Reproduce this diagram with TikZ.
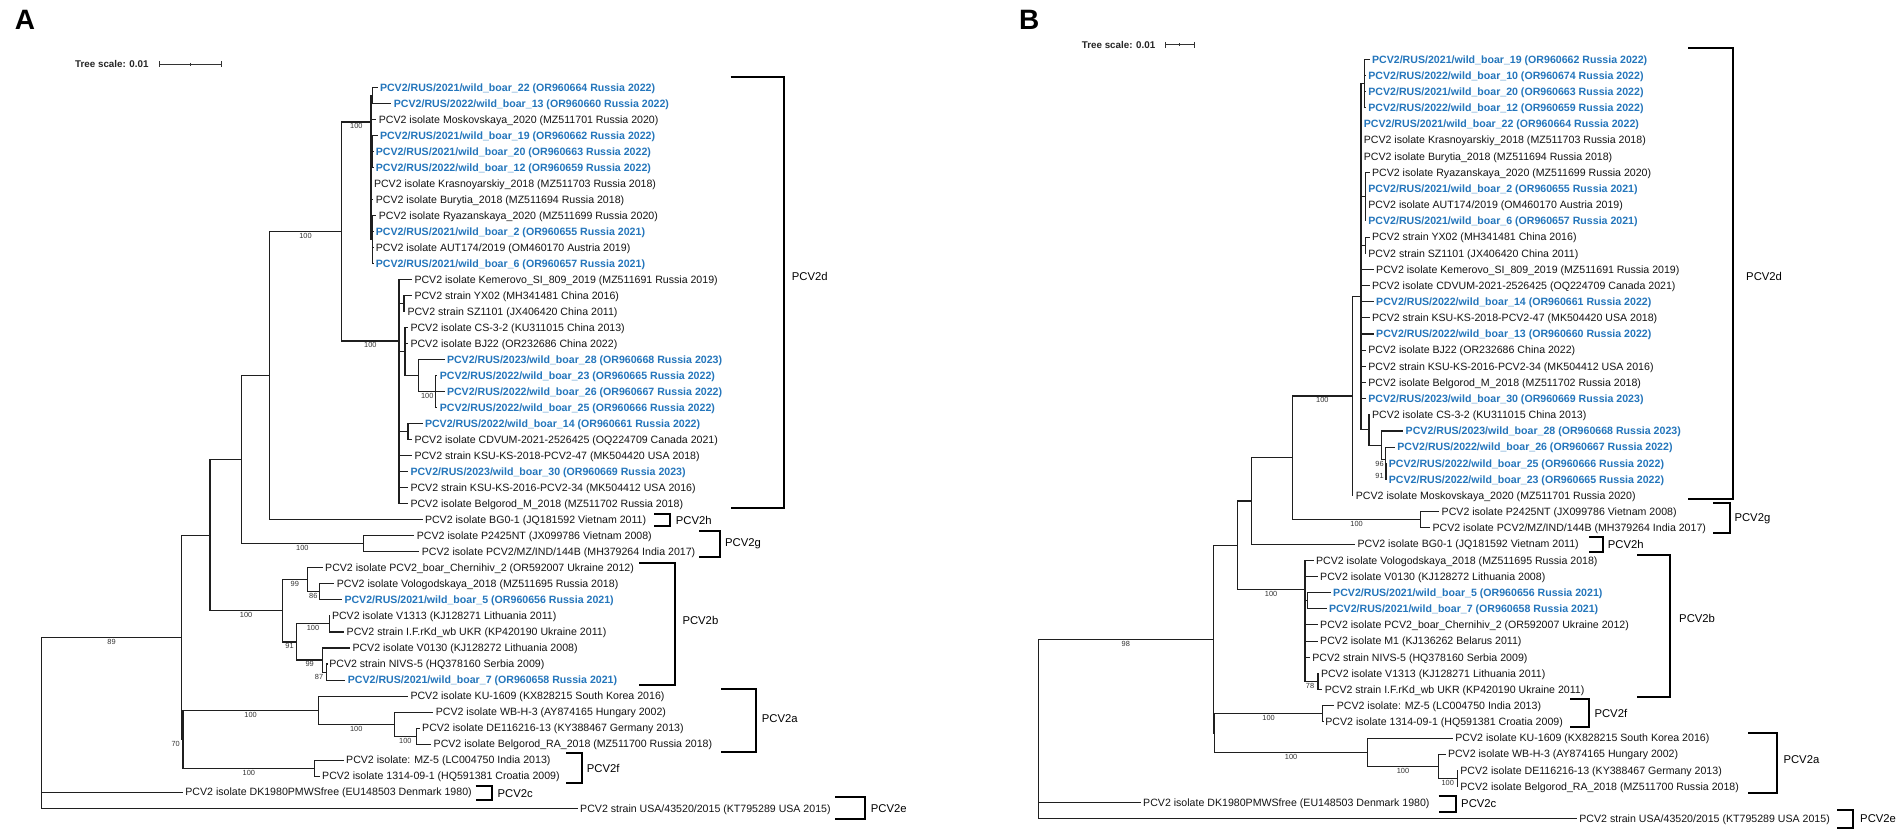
\documentclass[tikz,border=0pt]{standalone}
\usepackage{fontspec}
\setmainfont{Liberation Sans}
\usetikzlibrary{calc}
\definecolor{pblue}{RGB}{36,118,188}
\newcommand{\lf}[5]{\coordinate (#1) at (#2,#3); \node[#4] (#1t) at (#1) {#5};}
\newcommand{\kids}[2]{\foreach \kk in {#2}{\draw[tl] (#1) |- (\kk);}}
\newcommand{\bsl}[4]{\node[bs] (#1) at ($(#2 |- #3)!.5!(#3)$) {#4};}
\newcommand{\clade}[8]{\draw[brk] (#2,#4) -- (#3,#4) -- (#3,#5) -- (#2,#5); \node[clab] (#1) at (#6,#7) {#8};}
\tikzset{
 tl/.style={line width=1.05pt, black!88},
 brk/.style={line width=1.9pt, black},
 lbl/.style={anchor=base west, inner sep=0pt, xshift=2.3pt, yshift=-3.8pt, font=\fontsize{10.6}{12}\selectfont, text=black!92},
 blu/.style={lbl, font=\bfseries\fontsize{10.6}{12}\selectfont, text=pblue},
 bs/.style={anchor=north, inner sep=0pt, yshift=-1.6pt, font=\fontsize{7.4}{8}\selectfont, text=black!80},
 clab/.style={anchor=west, inner sep=0pt, font=\fontsize{11.3}{13}\selectfont},
 ttl/.style={anchor=base west, inner sep=0pt, font=\bfseries\fontsize{28}{30}\selectfont},
 tsc/.style={anchor=west, inner sep=0pt, font=\bfseries\fontsize{9.8}{11}\selectfont, text=black!85},
 sbar/.style={line width=1pt, black!80}
}
\begin{document}
\begin{tikzpicture}[x=1pt,y=-1pt]
\useasboundingbox (0,0) rectangle (1901,837);
\fill[white] (0,0) rectangle (1901,837);
% ================= PANEL A =================
\node[ttl] (tA) at (14.7,30) {A};
\node[tsc] (tsA) at (75,64.3) {Tree scale: 0.01};
\coordinate (sa1) at (159.1,64.3); \coordinate (sa2) at (221.8,64.3); \coordinate (sam) at (190.45,64.3);
\draw[sbar] (sa1) -- (sa2);
\draw[sbar] ($(sa1)+(0,-3)$) -- ($(sa1)+(0,3)$);
\draw[sbar] ($(sa2)+(0,-3)$) -- ($(sa2)+(0,3)$);
\draw[sbar] ($(sam)+(0,-1.5)$) -- ($(sam)+(0,1.5)$);
% internal nodes
\coordinate (aR) at (41.5,722.7);
\coordinate (aN89) at (181.5,637.25);
\coordinate (aW) at (210,535.4);
\coordinate (aU) at (241.5,459.77);
\coordinate (aNdh) at (269.4,375.66);
\coordinate (aNd) at (341.7,231.5);
\coordinate (aNd1) at (371,122);
\coordinate (aS12) at (372.5,95.31);
\coordinate (aS456) at (372.5,151.38);
\coordinate (aS912) at (372.5,239.49);
\coordinate (aNd2) at (399,341);
\coordinate (aS1415) at (404,303.57);
\coordinate (aD) at (405,351.63);
\coordinate (aE) at (418.8,375.66);
\coordinate (aF) at (435.6,391.68);
\coordinate (aG) at (408,431.73);
\coordinate (aNg) at (363.3,543.87);
\coordinate (aNb) at (282.3,610.95);
\coordinate (aB1) at (307.3,579.91);
\coordinate (aB11) at (319.3,591.93);
\coordinate (aB2) at (296.7,641.99);
\coordinate (aB21) at (329.3,623.97);
\coordinate (aB22) at (322.7,660.02);
\coordinate (aB221) at (326.7,672.03);
\coordinate (aN70) at (183,739.12);
\coordinate (aC2a) at (318.3,710.08);
\coordinate (aC2a2) at (394.3,724.1);
\coordinate (aC2a3) at (416.5,736.11);
\coordinate (aC2f) at (314.7,768.15);
% leaves
\lf{a1}{377.5}{87.30}{blu}{PCV2/RUS/2021/wild\_boar\_22 (OR960664 Russia 2022)}
\lf{a2}{391.4}{103.32}{blu}{PCV2/RUS/2022/wild\_boar\_13 (OR960660 Russia 2022)}
\lf{a3}{376.3}{119.34}{lbl}{PCV2 isolate Moskovskaya\_2020 (MZ511701 Russia 2020)}
\lf{a4}{377.5}{135.36}{blu}{PCV2/RUS/2021/wild\_boar\_19 (OR960662 Russia 2022)}
\lf{a5}{373.3}{151.38}{blu}{PCV2/RUS/2021/wild\_boar\_20 (OR960663 Russia 2022)}
\lf{a6}{373.3}{167.40}{blu}{PCV2/RUS/2022/wild\_boar\_12 (OR960659 Russia 2022)}
\lf{a7}{371.5}{183.42}{lbl}{PCV2 isolate Krasnoyarskiy\_2018 (MZ511703 Russia 2018)}
\lf{a8}{373.3}{199.44}{lbl}{PCV2 isolate Burytia\_2018 (MZ511694 Russia 2018)}
\lf{a9}{376.3}{215.46}{lbl}{PCV2 isolate Ryazanskaya\_2020 (MZ511699 Russia 2020)}
\lf{a10}{373.3}{231.48}{blu}{PCV2/RUS/2021/wild\_boar\_2 (OR960655 Russia 2021)}
\lf{a11}{373.3}{247.50}{lbl}{PCV2 isolate AUT174/2019 (OM460170 Austria 2019)}
\lf{a12}{373.3}{263.52}{blu}{PCV2/RUS/2021/wild\_boar\_6 (OR960657 Russia 2021)}
\lf{a13}{412}{279.54}{lbl}{PCV2 isolate Kemerovo\_SI\_809\_2019 (MZ511691 Russia 2019)}
\lf{a14}{412}{295.56}{lbl}{PCV2 strain YX02 (MH341481 China 2016)}
\lf{a15}{405}{311.58}{lbl}{PCV2 strain SZ1101 (JX406420 China 2011)}
\lf{a16}{408}{327.60}{lbl}{PCV2 isolate CS-3-2 (KU311015 China 2013)}
\lf{a17}{408}{343.62}{lbl}{PCV2 isolate BJ22 (OR232686 China 2022)}
\lf{a18}{444.5}{359.64}{blu}{PCV2/RUS/2023/wild\_boar\_28 (OR960668 Russia 2023)}
\lf{a19}{437.3}{375.66}{blu}{PCV2/RUS/2022/wild\_boar\_23 (OR960665 Russia 2022)}
\lf{a20}{444.5}{391.68}{blu}{PCV2/RUS/2022/wild\_boar\_26 (OR960667 Russia 2022)}
\lf{a21}{437.3}{407.70}{blu}{PCV2/RUS/2022/wild\_boar\_25 (OR960666 Russia 2022)}
\lf{a22}{422.5}{423.72}{blu}{PCV2/RUS/2022/wild\_boar\_14 (OR960661 Russia 2022)}
\lf{a23}{412}{439.74}{lbl}{PCV2 isolate CDVUM-2021-2526425 (OQ224709 Canada 2021)}
\lf{a24}{412}{455.76}{lbl}{PCV2 strain KSU-KS-2018-PCV2-47 (MK504420 USA 2018)}
\lf{a25}{408}{471.78}{blu}{PCV2/RUS/2023/wild\_boar\_30 (OR960669 Russia 2023)}
\lf{a26}{408}{487.80}{lbl}{PCV2 strain KSU-KS-2016-PCV2-34 (MK504412 USA 2016)}
\lf{a27}{408}{503.82}{lbl}{PCV2 isolate Belgorod\_M\_2018 (MZ511702 Russia 2018)}
\lf{a28}{422.5}{519.84}{lbl}{PCV2 isolate BG0-1 (JQ181592 Vietnam 2011)}
\lf{a29}{414.4}{535.86}{lbl}{PCV2 isolate P2425NT (JX099786 Vietnam 2008)}
\lf{a30}{419.4}{551.88}{lbl}{PCV2 isolate PCV2/MZ/IND/144B (MH379264 India 2017)}
\lf{a31}{322.7}{567.90}{lbl}{PCV2 isolate PCV2\_boar\_Chernihiv\_2 (OR592007 Ukraine 2012)}
\lf{a32}{334.4}{583.92}{lbl}{PCV2 isolate Vologodskaya\_2018 (MZ511695 Russia 2018)}
\lf{a33}{342}{599.94}{blu}{PCV2/RUS/2021/wild\_boar\_5 (OR960656 Russia 2021)}
\lf{a34}{329.5}{615.96}{lbl}{PCV2 isolate V1313 (KJ128271 Lithuania 2011)}
\lf{a35}{344.2}{631.98}{lbl}{PCV2 strain I.F.rKd\_wb UKR (KP420190 Ukraine 2011)}
\lf{a36}{350}{648.00}{lbl}{PCV2 isolate V0130 (KJ128272 Lithuania 2008)}
\lf{a37}{326.8}{664.02}{lbl}{PCV2 strain NIVS-5 (HQ378160 Serbia 2009)}
\lf{a38}{345.4}{680.04}{blu}{PCV2/RUS/2021/wild\_boar\_7 (OR960658 Russia 2021)}
\lf{a39}{408}{696.06}{lbl}{PCV2 isolate KU-1609 (KX828215 South Korea 2016)}
\lf{a40}{433.3}{712.08}{lbl}{PCV2 isolate WB-H-3 (AY874165 Hungary 2002)}
\lf{a41}{419.7}{728.10}{lbl}{PCV2 isolate DE116216-13 (KY388467 Germany 2013)}
\lf{a42}{431.2}{744.12}{lbl}{PCV2 isolate Belgorod\_RA\_2018 (MZ511700 Russia 2018)}
\lf{a43}{343.7}{760.14}{lbl}{PCV2 isolate: MZ-5 (LC004750 India 2013)}
\lf{a44}{319.7}{776.16}{lbl}{PCV2 isolate 1314-09-1 (HQ591381 Croatia 2009)}
\lf{a45}{182.9}{792.18}{lbl}{PCV2 isolate DK1980PMWSfree (EU148503 Denmark 1980)}
\lf{a46}{577.7}{808.20}{lbl}{PCV2 strain USA/43520/2015 (KT795289 USA 2015)}
% edges
\kids{aR}{aN89,a45,a46}
\kids{aN89}{aW,aN70}
\kids{aW}{aU,aNb}
\kids{aU}{aNdh,aNg}
\kids{aNdh}{aNd,a28}
\kids{aNd}{aNd1,aNd2}
\kids{aNd1}{aS12,a3,aS456,a7,a8,aS912}
\kids{aS12}{a1,a2}
\kids{aS456}{a4,a5,a6}
\kids{aS912}{a9,a10,a11,a12}
\kids{aNd2}{a13,aS1415,aD,aG,a24,a25,a26,a27}
\kids{aS1415}{a14,a15}
\kids{aD}{a16,a17,aE}
\kids{aE}{a18,aF}
\kids{aF}{a19,a20,a21}
\kids{aG}{a22,a23}
\kids{aNg}{a29,a30}
\kids{aNb}{aB1,aB2}
\kids{aB1}{a31,aB11}
\kids{aB11}{a32,a33}
\kids{aB2}{aB21,aB22}
\kids{aB21}{a34,a35}
\kids{aB22}{a36,aB221}
\kids{aB221}{a37,a38}
\kids{aN70}{aC2a,aC2f}
\kids{aC2a}{a39,aC2a2}
\kids{aC2a2}{a40,aC2a3}
\kids{aC2a3}{a41,a42}
\kids{aC2f}{a43,a44}
% support values
\bsl{la89}{aR}{aN89}{89}
\node[bs] (la70) at (175.7,739.12) {70};
\bsl{laWb}{aW}{aNb}{100}
\bsl{laB1}{aNb}{aB1}{99}
\bsl{laB11}{aB1}{aB11}{86}
\bsl{laB2}{aNb}{aB2}{91}
\bsl{laB21}{aB2}{aB21}{100}
\bsl{laB22}{aB2}{aB22}{99}
\node[bs] (laB221) at (319,672.03) {87};
\bsl{laNg}{aU}{aNg}{100}
\bsl{laNd}{aNdh}{aNd}{100}
\bsl{laNd1}{aNd}{aNd1}{100}
\bsl{laNd2}{aNd}{aNd2}{100}
\bsl{laF}{aE}{aF}{100}
\bsl{laC2a}{aN70}{aC2a}{100}
\bsl{laC2f}{aN70}{aC2f}{100}
\bsl{laC2a2}{aC2a}{aC2a2}{100}
\bsl{laC2a3}{aC2a2}{aC2a3}{100}
% clades
\clade{cAd}{730.7}{784.3}{77.3}{508.3}{791.7}{276}{PCV2d}
\clade{cAh}{654}{670}{514.3}{526}{675.7}{520}{PCV2h}
\clade{cAg}{699}{720}{531}{556.7}{725}{544}{PCV2g}
\clade{cAb}{639.3}{675}{563.3}{685}{682.3}{620}{PCV2b}
\clade{cAa}{721}{756}{688.7}{752.3}{761.7}{718.7}{PCV2a}
\clade{cAf}{566}{582.3}{753.3}{783.3}{586.7}{768.3}{PCV2f}
\clade{cAc}{475.6}{491.6}{786}{800}{497.5}{793.3}{PCV2c}
\clade{cAe}{835}{865}{796.7}{819}{870.7}{808.3}{PCV2e}
% ================= PANEL B =================
\node[ttl] (tB) at (1019,30) {B};
\node[tsc] (tsB) at (1081.7,45) {Tree scale: 0.01};
\coordinate (sb1) at (1165,45); \coordinate (sb2) at (1194,45); \coordinate (sbm) at (1179.5,45);
\draw[sbar] (sb1) -- (sb2);
\draw[sbar] ($(sb1)+(0,-3)$) -- ($(sb1)+(0,3)$);
\draw[sbar] ($(sb2)+(0,-3)$) -- ($(sb2)+(0,3)$);
\draw[sbar] ($(sbm)+(0,-1.5)$) -- ($(sbm)+(0,1.5)$);
\coordinate (bR) at (1038.1,728.9);
\coordinate (bX) at (1213.5,639.05);
\coordinate (bZ) at (1214.5,732.97);
\coordinate (bW) at (1237.1,545.15);
\coordinate (bV) at (1251.7,501.0);
\coordinate (bU) at (1292.3,457.93);
\coordinate (bD) at (1352.4,396.0);
\coordinate (bD1) at (1361,296.4);
\coordinate (bS14) at (1364.8,83.52);
\coordinate (bS811) at (1365.3,196.66);
\coordinate (bS1213) at (1365.3,245.14);
\coordinate (bD3) at (1369,429.97);
\coordinate (bD4) at (1381.4,445.12);
\coordinate (bD5) at (1385.6,459.26);
\coordinate (bD6) at (1386,471.38);
\coordinate (bG) at (1420.8,519.86);
\coordinate (bB) at (1305,589.3);
\coordinate (bS3435) at (1307.6,600.66);
\coordinate (bS3940) at (1318,681.46);
\coordinate (bF) at (1322.6,713.78);
\coordinate (bA) at (1367.7,752.16);
\coordinate (bA2) at (1438.2,766.3);
\coordinate (bA3) at (1457.3,778.42);
\lf{b1}{1369.6}{59.30}{blu}{PCV2/RUS/2021/wild\_boar\_19 (OR960662 Russia 2022)}
\lf{b2}{1365.9}{75.46}{blu}{PCV2/RUS/2022/wild\_boar\_10 (OR960674 Russia 2022)}
\lf{b3}{1365.9}{91.62}{blu}{PCV2/RUS/2021/wild\_boar\_20 (OR960663 Russia 2022)}
\lf{b4}{1365.9}{107.78}{blu}{PCV2/RUS/2022/wild\_boar\_12 (OR960659 Russia 2022)}
\lf{b5}{1361.3}{123.94}{blu}{PCV2/RUS/2021/wild\_boar\_22 (OR960664 Russia 2022)}
\lf{b6}{1361.3}{140.10}{lbl}{PCV2 isolate Krasnoyarskiy\_2018 (MZ511703 Russia 2018)}
\lf{b7}{1361.3}{156.26}{lbl}{PCV2 isolate Burytia\_2018 (MZ511694 Russia 2018)}
\lf{b8}{1369.6}{172.42}{lbl}{PCV2 isolate Ryazanskaya\_2020 (MZ511699 Russia 2020)}
\lf{b9}{1365.9}{188.58}{blu}{PCV2/RUS/2021/wild\_boar\_2 (OR960655 Russia 2021)}
\lf{b10}{1365.9}{204.74}{lbl}{PCV2 isolate AUT174/2019 (OM460170 Austria 2019)}
\lf{b11}{1365.9}{220.90}{blu}{PCV2/RUS/2021/wild\_boar\_6 (OR960657 Russia 2021)}
\lf{b12}{1369.6}{237.06}{lbl}{PCV2 strain YX02 (MH341481 China 2016)}
\lf{b13}{1365.9}{253.22}{lbl}{PCV2 strain SZ1101 (JX406420 China 2011)}
\lf{b14}{1373.7}{269.38}{lbl}{PCV2 isolate Kemerovo\_SI\_809\_2019 (MZ511691 Russia 2019)}
\lf{b15}{1369.6}{285.54}{lbl}{PCV2 isolate CDVUM-2021-2526425 (OQ224709 Canada 2021)}
\lf{b16}{1373.7}{301.70}{blu}{PCV2/RUS/2022/wild\_boar\_14 (OR960661 Russia 2022)}
\lf{b17}{1369.6}{317.86}{lbl}{PCV2 strain KSU-KS-2018-PCV2-47 (MK504420 USA 2018)}
\lf{b18}{1373.7}{334.02}{blu}{PCV2/RUS/2022/wild\_boar\_13 (OR960660 Russia 2022)}
\lf{b19}{1365.9}{350.18}{lbl}{PCV2 isolate BJ22 (OR232686 China 2022)}
\lf{b20}{1365.9}{366.34}{lbl}{PCV2 strain KSU-KS-2016-PCV2-34 (MK504412 USA 2016)}
\lf{b21}{1365.9}{382.50}{lbl}{PCV2 isolate Belgorod\_M\_2018 (MZ511702 Russia 2018)}
\lf{b22}{1365.9}{398.66}{blu}{PCV2/RUS/2023/wild\_boar\_30 (OR960669 Russia 2023)}
\lf{b23}{1369.6}{414.82}{lbl}{PCV2 isolate CS-3-2 (KU311015 China 2013)}
\lf{b24}{1403.2}{430.98}{blu}{PCV2/RUS/2023/wild\_boar\_28 (OR960668 Russia 2023)}
\lf{b25}{1394.9}{447.14}{blu}{PCV2/RUS/2022/wild\_boar\_26 (OR960667 Russia 2022)}
\lf{b26}{1386.4}{463.30}{blu}{PCV2/RUS/2022/wild\_boar\_25 (OR960666 Russia 2022)}
\lf{b27}{1386.4}{479.46}{blu}{PCV2/RUS/2022/wild\_boar\_23 (OR960665 Russia 2022)}
\lf{b28}{1353.4}{495.62}{lbl}{PCV2 isolate Moskovskaya\_2020 (MZ511701 Russia 2020)}
\lf{b29}{1439.2}{511.78}{lbl}{PCV2 isolate P2425NT (JX099786 Vietnam 2008)}
\lf{b30}{1430.1}{527.94}{lbl}{PCV2 isolate PCV2/MZ/IND/144B (MH379264 India 2017)}
\lf{b31}{1355.1}{544.10}{lbl}{PCV2 isolate BG0-1 (JQ181592 Vietnam 2011)}
\lf{b32}{1313.6}{560.26}{lbl}{PCV2 isolate Vologodskaya\_2018 (MZ511695 Russia 2018)}
\lf{b33}{1317.7}{576.42}{lbl}{PCV2 isolate V0130 (KJ128272 Lithuania 2008)}
\lf{b34}{1330.7}{592.58}{blu}{PCV2/RUS/2021/wild\_boar\_5 (OR960656 Russia 2021)}
\lf{b35}{1326.5}{608.74}{blu}{PCV2/RUS/2021/wild\_boar\_7 (OR960658 Russia 2021)}
\lf{b36}{1317.7}{624.90}{lbl}{PCV2 isolate PCV2\_boar\_Chernihiv\_2 (OR592007 Ukraine 2012)}
\lf{b37}{1317.7}{641.06}{lbl}{PCV2 isolate M1 (KJ136262 Belarus 2011)}
\lf{b38}{1309.9}{657.22}{lbl}{PCV2 strain NIVS-5 (HQ378160 Serbia 2009)}
\lf{b39}{1318.5}{673.38}{lbl}{PCV2 isolate V1313 (KJ128271 Lithuania 2011)}
\lf{b40}{1322.3}{689.54}{lbl}{PCV2 strain I.F.rKd\_wb UKR (KP420190 Ukraine 2011)}
\lf{b41}{1334.3}{705.70}{lbl}{PCV2 isolate: MZ-5 (LC004750 India 2013)}
\lf{b42}{1322.9}{721.86}{lbl}{PCV2 isolate 1314-09-1 (HQ591381 Croatia 2009)}
\lf{b43}{1452.9}{738.02}{lbl}{PCV2 isolate KU-1609 (KX828215 South Korea 2016)}
\lf{b44}{1445.5}{754.18}{lbl}{PCV2 isolate WB-H-3 (AY874165 Hungary 2002)}
\lf{b45}{1457.9}{770.34}{lbl}{PCV2 isolate DE116216-13 (KY388467 Germany 2013)}
\lf{b46}{1457.9}{786.50}{lbl}{PCV2 isolate Belgorod\_RA\_2018 (MZ511700 Russia 2018)}
\lf{b47}{1140.7}{802.66}{lbl}{PCV2 isolate DK1980PMWSfree (EU148503 Denmark 1980)}
\lf{b48}{1576.9}{818.82}{lbl}{PCV2 strain USA/43520/2015 (KT795289 USA 2015)}
\kids{bR}{bX,b47,b48}
\kids{bX}{bW,bZ}
\kids{bZ}{bF,bA}
\kids{bF}{b41,b42}
\kids{bA}{b43,bA2}
\kids{bA2}{b44,bA3}
\kids{bA3}{b45,b46}
\kids{bW}{bV,bB}
\kids{bV}{bU,b31}
\kids{bU}{bD,bG}
\kids{bG}{b29,b30}
\kids{bD}{bD1,b28}
\kids{bD1}{bS14,b5,b6,b7,bS811,bS1213,b14,b15,b16,b17,b18,b19,b20,b21,b22,bD3}
\kids{bS14}{b1,b2,b3,b4}
\kids{bS811}{b8,b9,b10,b11}
\kids{bS1213}{b12,b13}
\kids{bD3}{b23,bD4}
\kids{bD4}{b24,bD5}
\kids{bD5}{b25,bD6}
\kids{bD6}{b26,b27}
\kids{bB}{b32,b33,bS3435,b36,b37,b38,bS3940}
\kids{bS3435}{b34,b35}
\kids{bS3940}{b39,b40}
\bsl{lb98}{bR}{bX}{98}
\bsl{lbf}{bZ}{bF}{100}
\bsl{lba}{bZ}{bA}{100}
\bsl{lba2}{bA}{bA2}{100}
\bsl{lba3}{bA2}{bA3}{100}
\bsl{lbb}{bW}{bB}{100}
\node[bs] (lb78) at (1310.1,681.46) {78};
\bsl{lbg}{bU}{bG}{100}
\bsl{lbd}{bU}{bD}{100}
\node[bs] (lb96) at (1379.5,459.26) {96};
\node[bs] (lb91) at (1379.5,471.38) {91};
\clade{cBd}{1688.3}{1732.7}{48.3}{498.7}{1746}{276}{PCV2d}
\clade{cBg}{1713.3}{1730}{503.3}{533.3}{1734.3}{518.3}{PCV2g}
\clade{cBh}{1589.3}{1603.3}{536.7}{551.7}{1607.7}{544}{PCV2h}
\clade{cBb}{1637.3}{1670}{555}{696.7}{1679}{618.3}{PCV2b}
\clade{cBf}{1570}{1589}{699.3}{727.3}{1594.3}{713.3}{PCV2f}
\clade{cBa}{1748.3}{1776.7}{733.3}{792.7}{1783.3}{760}{PCV2a}
\clade{cBc}{1438.6}{1456}{796}{811.7}{1461}{803.3}{PCV2c}
\clade{cBe}{1837.3}{1853.3}{810}{828.3}{1860}{819}{PCV2e}
\end{tikzpicture}
\end{document}
